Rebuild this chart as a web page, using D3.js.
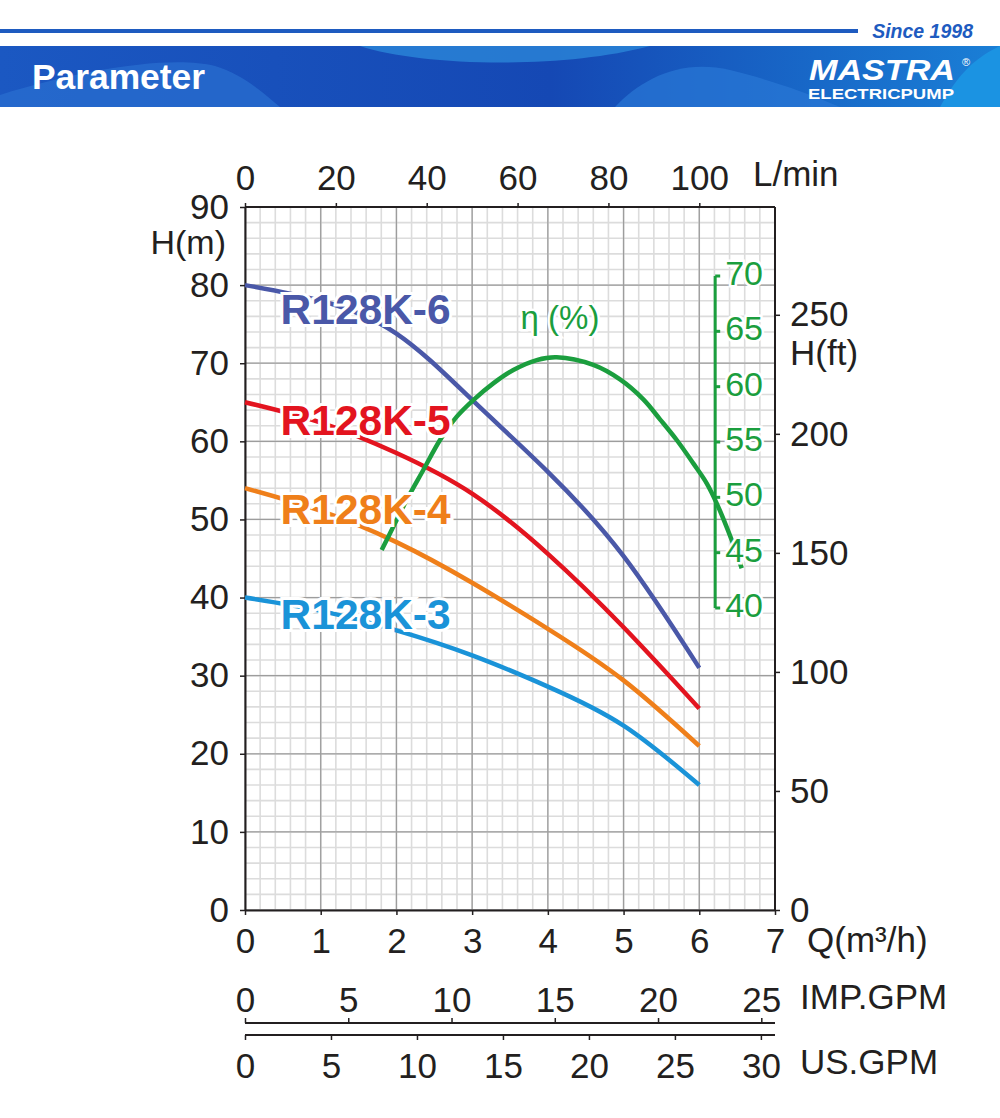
<!DOCTYPE html>
<html><head><meta charset="utf-8">
<script src="https://cdn.jsdelivr.net/npm/d3@7"></script>
<style>
body{margin:0;background:#fff;}
svg text{font-family:"Liberation Sans",Arial,sans-serif;}
</style></head>
<body><svg id="c" width="1000" height="1118"></svg>
<script>
// ---------- data ----------
const flowQ = [0,1,2,3,4,5,6];
const headK6 = [80,78,73.8,65.3,56.1,45.3,31];
const headK5 = [65,62.4,58.5,53.3,45.6,36.2,25.8];
const headK4 = [54,51.1,47.1,41.9,36,29.4,21];
const headK3 = [40,38.3,35.8,32.6,28.6,23.6,16];
const effQ   = [1.805,1.981,2.135,2.355,2.576,2.797,3.015,3.279,3.544,3.853,4.117,4.600,4.953,5.261,5.481,5.702,5.921,6.098,6.230,6.428,6.560];
const effVal = [45.24,47.65,49.76,52.47,55.18,57.29,58.79,60.30,61.50,62.40,62.65,61.96,60.65,58.85,57.05,55.18,53.07,51.27,49.46,46.14,43.59];
const seriesNames = ["R128K-6","R128K-5","R128K-4","R128K-3"];
const seriesColors = ["#4a58a8","#e3141f","#ef7f1a","#1a93d8"];
const labelHead = [76.5,62.3,50.8,37.4];
const qTicks = [0,1,2,3,4,5,6,7];
const hTicks = [0,10,20,30,40,50,60,70,80,90];
const lminTicks = [0,20,40,60,80,100];
const ftTicks = [0,50,100,150,200,250];
const effTicks = [40,45,50,55,60,65,70];
const impTicks = [0,5,10,15,20,25];
const usTicks = [0,5,10,15,20,25,30];

// ---------- layout ----------
const svg = d3.select("#c");
const ink = "#231f20";
const FS = 35;
const x = d3.scaleLinear().domain([0,7]).range([245,775]);
const y = d3.scaleLinear().domain([0,90]).range([910,207]);
const yFt = d3.scaleLinear().domain([0,90/0.3048]).range([910,207]);
const xL = d3.scaleLinear().domain([0,7*1000/60]).range([245,775]);
const xImp = d3.scaleLinear().domain([0,7*1000/4.54609/60]).range([245,775]);
const xUs = d3.scaleLinear().domain([0,7*1000/3.785411784/60]).range([245,775]);
const yEff = d3.scaleLinear().domain([40,70]).range([608,276]);
const effAxisQ = 6.21;

// ---------- header ----------
const defs = svg.append("defs");
const g1 = defs.append("linearGradient").attr("id","bn").attr("x1","0").attr("x2","1");
g1.append("stop").attr("offset","0").attr("stop-color","#1b58c2");
g1.append("stop").attr("offset","0.55").attr("stop-color","#1548b4");
g1.append("stop").attr("offset","1").attr("stop-color","#1a7fd6");
svg.append("line").attr("x1",0).attr("x2",858).attr("y1",31).attr("y2",31)
  .attr("stroke","#1e5bc0").attr("stroke-width",4);
svg.append("text").attr("x",973).attr("y",38).attr("text-anchor","end")
  .attr("font-size",19.5).attr("font-weight","bold").attr("font-style","italic")
  .attr("fill","#1e5bc0").text("Since 1998");
const bn = svg.append("g");
bn.append("rect").attr("x",0).attr("y",46).attr("width",1000).attr("height",61).attr("fill","url(#bn)");
bn.append("path").attr("d","M360,46 C420,66 560,70 650,46 Z").attr("fill","#2a86d8").attr("opacity",0.8);
bn.append("path").attr("d","M0,107 L0,95 C80,70 170,55 215,66 C245,75 265,95 280,107 Z").attr("fill","#2a6fd0").attr("opacity",0.7);
bn.append("path").attr("d","M615,107 C640,80 680,58 730,70 C770,80 800,90 840,107 Z").attr("fill","#2a78d6").attr("opacity",0.7);
bn.append("path").attr("d","M940,107 C955,80 970,60 1000,46 L1000,107 Z").attr("fill","#1c96e3").attr("opacity",0.9);
svg.append("text").attr("x",32).attr("y",89).attr("font-size",35).attr("font-weight","bold")
  .attr("fill","#fff").attr("textLength",173).attr("lengthAdjust","spacingAndGlyphs").text("Parameter");
svg.append("text").attr("x",955).attr("y",80).attr("text-anchor","end").attr("font-size",29)
  .attr("font-weight","900").attr("font-style","italic").attr("fill","#fff")
  .attr("textLength",146).attr("lengthAdjust","spacingAndGlyphs").text("MASTRA");
svg.append("text").attr("x",962).attr("y",66).attr("font-size",11).attr("fill","#fff").text("®");
svg.append("text").attr("x",808).attr("y",99).attr("font-size",15.5).attr("font-weight","bold")
  .attr("fill","#fff").attr("textLength",146).attr("lengthAdjust","spacingAndGlyphs").text("ELECTRICPUMP");

// ---------- grid ----------
const grid = svg.append("g");
const minorQ = d3.range(0,7.001,0.2), minorH = d3.range(0,90.001,2);
grid.selectAll(".mv").data(minorQ).join("line").attr("x1",d=>x(d)).attr("x2",d=>x(d))
  .attr("y1",y(0)).attr("y2",y(90)).attr("stroke","#dcdcdc").attr("stroke-width",1.6);
grid.selectAll(".mh").data(minorH).join("line").attr("y1",d=>y(d)).attr("y2",d=>y(d))
  .attr("x1",x(0)).attr("x2",x(7)).attr("stroke","#dcdcdc").attr("stroke-width",1.6);
grid.selectAll(".Mv").data(qTicks).join("line").attr("x1",d=>x(d)).attr("x2",d=>x(d))
  .attr("y1",y(0)).attr("y2",y(90)).attr("stroke","#9d9d9d").attr("stroke-width",1.3);
grid.selectAll(".Mh").data(hTicks).join("line").attr("y1",d=>y(d)).attr("y2",d=>y(d))
  .attr("x1",x(0)).attr("x2",x(7)).attr("stroke","#9d9d9d").attr("stroke-width",1.3);

// ---------- axes ----------
function styleAxis(g){
  g.selectAll("path").attr("stroke",ink).attr("stroke-width",2);
  g.selectAll("line").attr("stroke",ink).attr("stroke-width",1.5);
  g.selectAll("text").attr("fill",ink).attr("font-size",FS).attr("font-family","Liberation Sans, Arial, sans-serif");
}
const fmt = d3.format("d");
const axL = svg.append("g").attr("transform",`translate(${x(0)},0)`)
  .call(d3.axisLeft(y).tickValues(hTicks).tickFormat(fmt).tickSize(5).tickSizeOuter(0).tickPadding(11));
styleAxis(axL);
const axB = svg.append("g").attr("transform",`translate(0,${y(0)})`)
  .call(d3.axisBottom(x).tickValues(qTicks).tickFormat(fmt).tickSize(5).tickSizeOuter(0).tickPadding(13));
styleAxis(axB);
const axT = svg.append("g").attr("transform",`translate(0,${y(90)})`)
  .call(d3.axisTop(xL).tickValues(lminTicks).tickFormat(fmt).tickSize(4).tickSizeOuter(0).tickPadding(13));
styleAxis(axT);
axT.select("path").attr("d",`M${x(0)},0H${x(7)}`);
const axR = svg.append("g").attr("transform",`translate(${x(7)},0)`)
  .call(d3.axisRight(yFt).tickValues(ftTicks).tickFormat(fmt).tickSize(5).tickSizeOuter(0).tickPadding(10));
styleAxis(axR);
axR.select("path").attr("d",`M0,${y(0)}V${y(90)}`);

// bottom GPM axes
const axI = svg.append("g").attr("transform","translate(0,1023)")
  .call(d3.axisTop(xImp).tickValues(impTicks).tickFormat(fmt).tickSize(5).tickSizeOuter(0).tickPadding(6));
styleAxis(axI);
axI.select("path").attr("d",`M${x(0)},0H${x(7)}`);
const axU = svg.append("g").attr("transform","translate(0,1035)")
  .call(d3.axisBottom(xUs).tickValues(usTicks).tickFormat(fmt).tickSize(5).tickSizeOuter(0).tickPadding(13));
styleAxis(axU);
axU.select("path").attr("d",`M${x(0)},0H${x(7)}`);

// axis titles
const tt = (tx,ty,s,anchor,fs)=>svg.append("text").attr("x",tx).attr("y",ty).attr("font-size",fs||FS)
  .attr("fill",ink).attr("text-anchor",anchor||"start").attr("dominant-baseline","middle").text(s);
tt(226,245,"H(m)","end",34);
tt(753,177,"L/min");
tt(807,943,"Q(m³/h)");
tt(790,356,"H(ft)",34);
tt(800,1000,"IMP.GPM");
tt(800,1065,"US.GPM");

// ---------- curves ----------
const line = d3.line().x(d=>x(d[0])).y(d=>y(d[1])).curve(d3.curveNatural);
const heads = [headK6,headK5,headK4,headK3];
heads.forEach((h,i)=>{
  svg.append("path").datum(flowQ.map((q,j)=>[q,h[j]])).attr("d",line)
    .attr("fill","none").attr("stroke",seriesColors[i]).attr("stroke-width",4.5);
});
const effLine = d3.line().x(d=>x(d[0])).y(d=>yEff(d[1])).curve(d3.curveCatmullRom.alpha(0.5));
const green = "#1b9e3e";
svg.append("path").datum(effQ.map((q,j)=>[q,effVal[j]])).attr("d",effLine)
  .attr("fill","none").attr("stroke",green).attr("stroke-width",4.5);

// efficiency axis
const ex = x(effAxisQ);
svg.append("line").attr("x1",ex).attr("x2",ex).attr("y1",yEff(70)).attr("y2",yEff(40))
  .attr("stroke",green).attr("stroke-width",3);
svg.selectAll(".et").data(effTicks).join("line").attr("x1",ex).attr("x2",ex+5)
  .attr("y1",d=>yEff(d)).attr("y2",d=>yEff(d)).attr("stroke",green).attr("stroke-width",3);
svg.selectAll(".el").data(effTicks).join("text").attr("x",ex+10).attr("y",d=>yEff(d))
  .attr("dominant-baseline","middle").attr("font-size",34).attr("fill",green)
  .attr("stroke","#fff").attr("stroke-width",5).attr("paint-order","stroke")
  .text(d=>d);
svg.append("text").attr("x",560).attr("y",320).attr("text-anchor","middle")
  .attr("dominant-baseline","middle").attr("font-size",33).attr("fill",green)
  .attr("stroke","#fff").attr("stroke-width",5).attr("paint-order","stroke").text("η (%)");

// series labels
seriesNames.forEach((n,i)=>{
  svg.append("text").attr("x",x(0.47)).attr("y",y(labelHead[i])).attr("dominant-baseline","middle")
    .attr("font-size",42.5).attr("font-weight","bold").attr("fill",seriesColors[i])
    .attr("stroke","#fff").attr("stroke-width",6).attr("paint-order","stroke").text(n);
});
</script></body></html>
